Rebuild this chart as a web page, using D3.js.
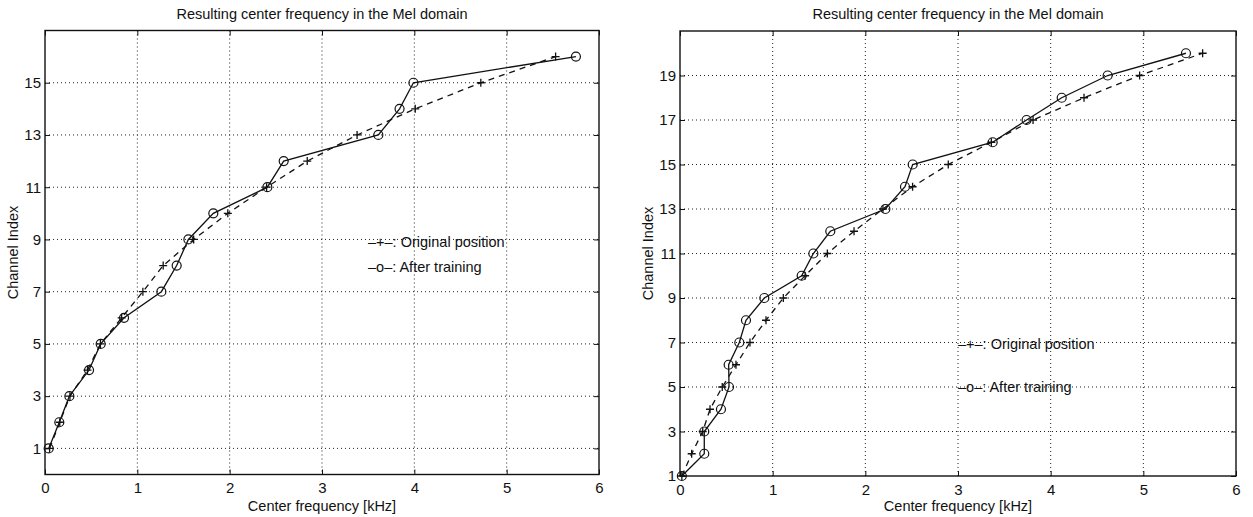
<!DOCTYPE html>
<html>
<head>
<meta charset="utf-8">
<script src="https://cdn.jsdelivr.net/npm/d3@7"></script>
<style>
  html, body { margin: 0; padding: 0; background: #fff; }
  svg { display: block; }
  text { font-family: "Liberation Sans", Arial, Helvetica, sans-serif; fill: #111; }
</style>
</head>
<body>
<svg id="chart" width="1253" height="517"></svg>
<script>
// ---- Data ----
const titleText = "Resulting center frequency in the Mel domain";
const xLabelText = "Center frequency [kHz]";
const yLabelText = "Channel Index";
const legendOrigText = "\u2013+\u2013: Original position";
const legendTrainText = "\u2013o\u2013: After training";

const xTicks = [0, 1, 2, 3, 4, 5, 6];

// Left panel (16 channels)
const leftChannels = [1,2,3,4,5,6,7,8,9,10,11,12,13,14,15,16];
const leftOriginal = [0.05,0.16,0.27,0.46,0.60,0.83,1.06,1.28,1.61,1.98,2.40,2.84,3.38,4.01,4.72,5.53];
const leftTrained  = [0.04,0.155,0.264,0.477,0.603,0.856,1.26,1.426,1.553,1.823,2.408,2.585,3.61,3.84,3.99,5.75];
const leftYTicks = [1,3,5,7,9,11,13,15];
const leftYDomain = [0, 17];

// Right panel (20 channels)
const rightChannels = [1,2,3,4,5,6,7,8,9,10,11,12,13,14,15,16,17,18,19,20];
const rightOriginal = [0.02,0.126,0.245,0.324,0.456,0.604,0.755,0.928,1.115,1.35,1.59,1.878,2.19,2.51,2.895,3.36,3.81,4.36,4.96,5.64];
const rightTrained  = [0.02,0.262,0.262,0.442,0.529,0.525,0.64,0.712,0.91,1.313,1.439,1.622,2.216,2.428,2.511,3.374,3.74,4.119,4.615,5.46];
const rightYTicks = [1,3,5,7,9,11,13,15,17,19];
const rightYDomain = [1, 21];

const xDomain = [0, 6];

const svg = d3.select("#chart");

function drawPanel(p) {
  const g = svg.append("g");
  const x = d3.scaleLinear().domain(xDomain).range([p.left, p.right]);
  const y = d3.scaleLinear().domain(p.yDomain).range([p.bottom, p.top]);

  // grid (dotted)
  g.append("g").selectAll("line").data(xTicks.slice(1, -1)).join("line")
    .attr("x1", d => x(d)).attr("x2", d => x(d))
    .attr("y1", p.top).attr("y2", p.bottom)
    .attr("stroke", "#222").attr("stroke-width", 1).attr("stroke-dasharray", "1,3");
  g.append("g").selectAll("line").data(p.yTicks.filter(t => t > p.yDomain[0] && t < p.yDomain[1])).join("line")
    .attr("x1", p.left).attr("x2", p.right)
    .attr("y1", d => y(d)).attr("y2", d => y(d))
    .attr("stroke", "#222").attr("stroke-width", 1).attr("stroke-dasharray", "1,3");

  // axes with inward ticks
  const tl = 5;
  const xAxisB = d3.axisBottom(x).tickValues(xTicks).tickSize(-tl).tickPadding(8).tickFormat(d3.format("d"));
  const xAxisT = d3.axisTop(x).tickValues(xTicks).tickSize(-tl).tickFormat("");
  const yAxisL = d3.axisLeft(y).tickValues(p.yTicks).tickSize(-tl).tickPadding(4).tickFormat(d3.format("d"));
  const yAxisR = d3.axisRight(y).tickValues(p.yTicks).tickSize(-tl).tickFormat("");

  const styleAxis = sel => {
    sel.select(".domain").remove();
    sel.selectAll(".tick line").attr("stroke", "#111").attr("stroke-width", 1);
    sel.selectAll(".tick text").attr("font-size", 15).attr("fill", "#111")
      .attr("font-family", "Liberation Sans, Arial, sans-serif");
  };
  g.append("g").attr("transform", `translate(0,${p.bottom})`).call(xAxisB).call(styleAxis);
  g.append("g").attr("transform", `translate(0,${p.top})`).call(xAxisT).call(styleAxis);
  g.append("g").attr("transform", `translate(${p.left},0)`).call(yAxisL).call(styleAxis);
  g.append("g").attr("transform", `translate(${p.right},0)`).call(yAxisR).call(styleAxis);

  // frame
  g.append("rect").attr("x", p.left).attr("y", p.top)
    .attr("width", p.right - p.left).attr("height", p.bottom - p.top)
    .attr("fill", "none").attr("stroke", "#111").attr("stroke-width", 1.4);

  const line = d3.line().x(d => x(d[0])).y(d => y(d[1]));
  const orig = p.original.map((f, i) => [f, p.channels[i]]);
  const trained = p.trained.map((f, i) => [f, p.channels[i]]);

  // original: dashed with +
  g.append("path").datum(orig).attr("d", line)
    .attr("fill", "none").attr("stroke", "#111").attr("stroke-width", 1.3)
    .attr("stroke-dasharray", "6,5");
  g.append("g").selectAll("path").data(orig).join("path")
    .attr("d", d => {
      const cx = x(d[0]), cy = y(d[1]), s = 4;
      return `M${cx - s},${cy}H${cx + s}M${cx},${cy - s}V${cy + s}`;
    })
    .attr("stroke", "#111").attr("stroke-width", 1.3).attr("fill", "none");

  // trained: solid with circles
  g.append("path").datum(trained).attr("d", line)
    .attr("fill", "none").attr("stroke", "#111").attr("stroke-width", 1.3);
  g.append("g").selectAll("circle").data(trained).join("circle")
    .attr("cx", d => x(d[0])).attr("cy", d => y(d[1])).attr("r", 4.5)
    .attr("fill", "none").attr("stroke", "#111").attr("stroke-width", 1.2);

  // title
  g.append("text").attr("x", (p.left + p.right) / 2).attr("y", 19)
    .attr("text-anchor", "middle").attr("font-size", 14.5).text(titleText);
  // x label
  g.append("text").attr("x", (p.left + p.right) / 2).attr("y", 511)
    .attr("text-anchor", "middle").attr("font-size", 14.5).text(xLabelText);
  // y label
  g.append("text")
    .attr("transform", `translate(${p.left - 27},${(p.top + p.bottom) / 2}) rotate(-90)`)
    .attr("text-anchor", "middle").attr("font-size", 14.5).text(yLabelText);

  // legend
  g.append("text").attr("x", p.legX).attr("y", p.legY1).attr("font-size", 14.5).text(legendOrigText);
  g.append("text").attr("x", p.legX).attr("y", p.legY2).attr("font-size", 14.5).text(legendTrainText);
}

drawPanel({
  left: 45, right: 599, top: 30.5, bottom: 474.5,
  yDomain: leftYDomain, yTicks: leftYTicks,
  channels: leftChannels, original: leftOriginal, trained: leftTrained,
  legX: 368, legY1: 247, legY2: 272
});
drawPanel({
  left: 680, right: 1236, top: 31, bottom: 476,
  yDomain: rightYDomain, yTicks: rightYTicks,
  channels: rightChannels, original: rightOriginal, trained: rightTrained,
  legX: 958, legY1: 349, legY2: 392
});
</script>
</body>
</html>
